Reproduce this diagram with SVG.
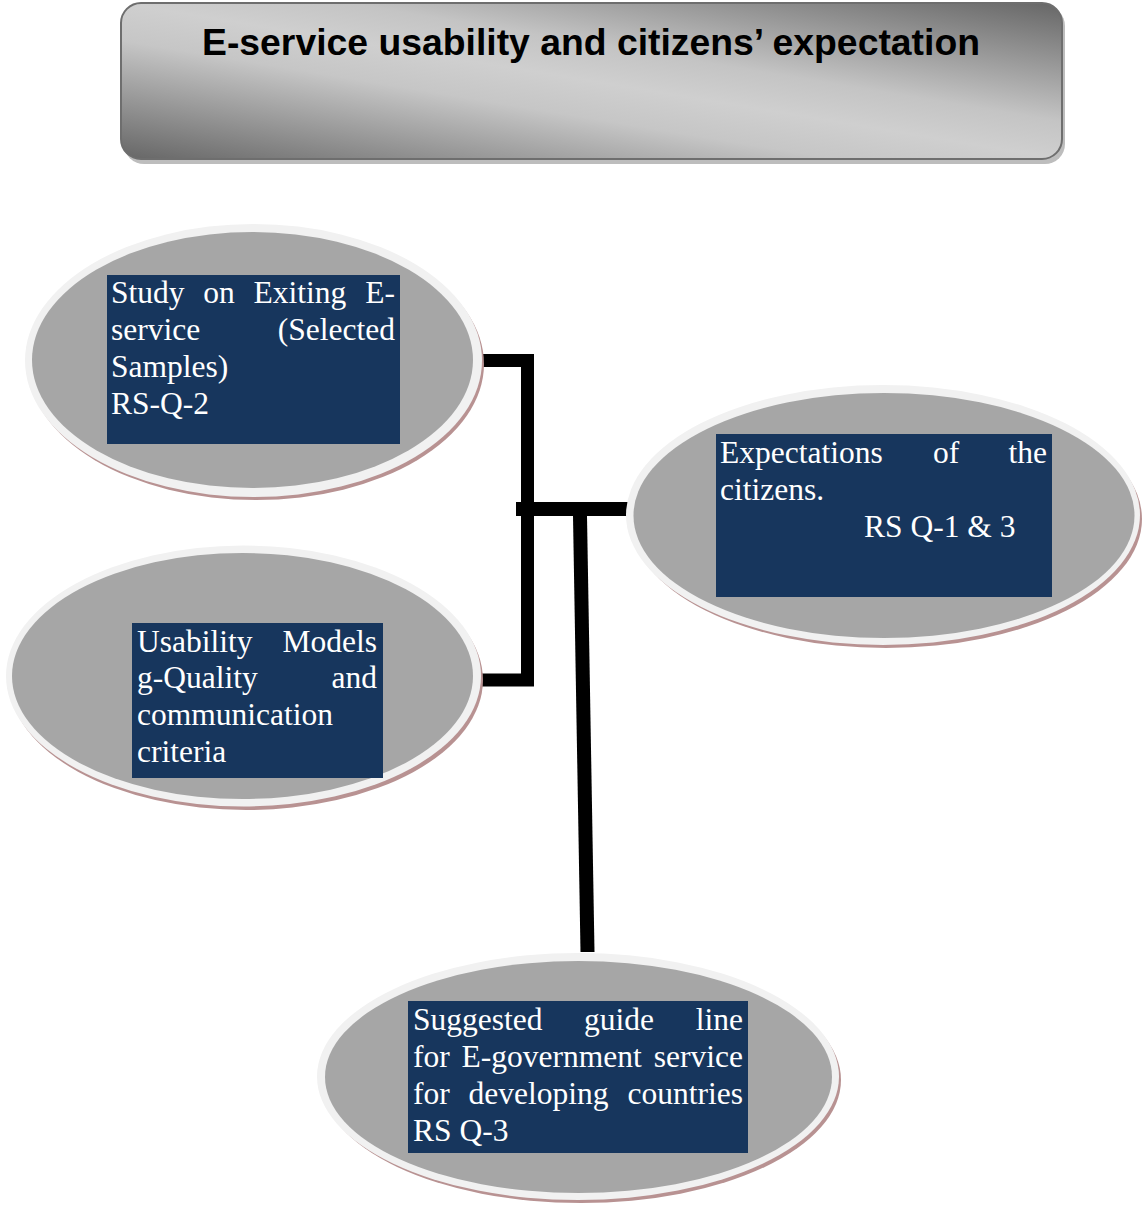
<svg xmlns="http://www.w3.org/2000/svg" width="1148" height="1209" viewBox="0 0 1148 1209">
  <defs>
    <linearGradient id="titleFill" x1="0" y1="1" x2="1" y2="0">
      <stop offset="0" stop-color="#666666"/>
      <stop offset="0.38" stop-color="#c6c6c6"/>
      <stop offset="0.5" stop-color="#cfcfcf"/>
      <stop offset="0.62" stop-color="#c4c4c4"/>
      <stop offset="1" stop-color="#666666"/>
    </linearGradient>
  </defs>
  <style>
    .shadow { fill: #b89292; }
    .ring { fill: #f1f1f1; }
    .core { fill: #a6a6a6; }
    .box { fill: #17365d; }
    .label { font-family: "Liberation Serif", "Times New Roman", serif; font-size: 31.5px; fill: #ffffff; }
    .end { text-anchor: end; }
    .title { font-family: "Liberation Sans", Arial, sans-serif; font-weight: bold; font-size: 37.5px; fill: #000000; }
    .link { fill: none; stroke: #000000; stroke-linejoin: miter; stroke-linecap: butt; }
  </style>

  <rect width="1148" height="1209" fill="#ffffff"/>

  <!-- heading panel -->
  <g id="title">
    <rect x="124" y="6" width="941" height="158" rx="20" fill="#bdbdbd"/>
    <rect x="121" y="3" width="941" height="156" rx="20" fill="url(#titleFill)" stroke="#6e6e6e" stroke-width="2"/>
    <text class="title" x="202" y="55" textLength="778" lengthAdjust="spacingAndGlyphs">E-service usability and citizens’ expectation</text>
  </g>

  <!-- connectors -->
  <g id="connectors">
    <path class="link" stroke-width="13" d="M482,360.5 H527.5 V680 H482"/>
    <path class="link" stroke-width="14" d="M516,509 H628"/>
    <path class="link" stroke-width="14" d="M580,516 L587.5,952"/>
  </g>

  <!-- node: existing e-service study -->
  <g id="node-study">
    <ellipse class="shadow" cx="256" cy="364" rx="228" ry="136"/>
    <ellipse class="ring" cx="253.5" cy="360.5" rx="228.5" ry="136.5"/>
    <ellipse class="core" cx="252.5" cy="360" rx="220.5" ry="128"/>
    <rect class="box" x="107" y="275" width="293" height="169"/>
    <text class="label" y="303"><tspan x="111">Study</tspan><tspan x="203.3">on</tspan><tspan x="253.6">Exiting</tspan><tspan x="395" class="end">E-</tspan></text>
    <text class="label" y="340"><tspan x="111">service</tspan><tspan x="395" class="end">(Selected</tspan></text>
    <text class="label" x="111" y="377">Samples)</text>
    <text class="label" x="111" y="414">RS-Q-2</text>
  </g>

  <!-- node: citizens' expectations -->
  <g id="node-expectations">
    <ellipse class="shadow" cx="886" cy="519" rx="256" ry="129"/>
    <ellipse class="ring" cx="883" cy="515" rx="257" ry="130"/>
    <ellipse class="core" cx="884" cy="515.5" rx="250.5" ry="122.5"/>
    <rect class="box" x="716" y="434" width="336" height="163"/>
    <text class="label" y="462.5"><tspan x="720">Expectations</tspan><tspan x="933">of</tspan><tspan x="1047" class="end">the</tspan></text>
    <text class="label" x="720" y="499.5">citizens.</text>
    <text class="label" x="864" y="537">RS Q-1 &amp; 3</text>
  </g>

  <!-- node: usability models -->
  <g id="node-usability">
    <ellipse class="shadow" cx="246" cy="680" rx="237" ry="130"/>
    <ellipse class="ring" cx="243.5" cy="676" rx="237.5" ry="130.5"/>
    <ellipse class="core" cx="242.5" cy="676" rx="230.5" ry="123"/>
    <rect class="box" x="132" y="623" width="251" height="155"/>
    <text class="label" y="652"><tspan x="137">Usability</tspan><tspan x="377" class="end">Models</tspan></text>
    <text class="label" y="688"><tspan x="137">g-Quality</tspan><tspan x="377" class="end">and</tspan></text>
    <text class="label" x="137" y="725">communication</text>
    <text class="label" x="137" y="762">criteria</text>
  </g>

  <!-- node: suggested guideline -->
  <g id="node-guideline">
    <ellipse class="shadow" cx="581" cy="1080" rx="260" ry="123"/>
    <ellipse class="ring" cx="578" cy="1076.5" rx="261" ry="123.5"/>
    <ellipse class="core" cx="578.5" cy="1077" rx="253.5" ry="116"/>
    <rect class="box" x="408" y="1001" width="340" height="152"/>
    <text class="label" y="1030"><tspan x="413">Suggested</tspan><tspan x="584.1">guide</tspan><tspan x="743" class="end">line</tspan></text>
    <text class="label" y="1067"><tspan x="413">for</tspan><tspan x="461.6">E-government</tspan><tspan x="743" class="end">service</tspan></text>
    <text class="label" y="1104"><tspan x="413">for</tspan><tspan x="468.6">developing</tspan><tspan x="743" class="end">countries</tspan></text>
    <text class="label" x="413" y="1141">RS Q-3</text>
  </g>
</svg>
